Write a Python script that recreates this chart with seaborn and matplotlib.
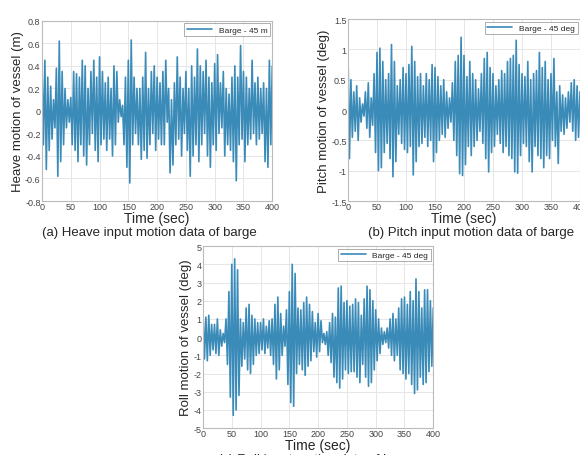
import numpy as np
import pandas as pd
import seaborn as sns
import matplotlib.pyplot as plt

# extrema: crests at t = 0, 5, ..., 400 s and troughs at t = 2.5, 7.5, ..., 397.5 s
heave_crests = [0.40, 0.45, 0.30, 0.22, 0.10, 0.38, 0.62, 0.35, 0.20, 0.10,
                0.12, 0.35, 0.33, 0.30, 0.45, 0.40, 0.20, 0.35, 0.45, 0.30,
                0.48, 0.35, 0.25, 0.30, 0.20, 0.40, 0.35, 0.10, 0.05, 0.30,
                0.45, 0.63, 0.30, 0.20, 0.20, 0.30, 0.52, 0.20, 0.35, 0.40,
                0.30, 0.25, 0.35, 0.45, 0.20, 0.10, 0.25, 0.48, 0.30, 0.20,
                0.35, 0.20, 0.40, 0.30, 0.55, 0.40, 0.35, 0.45, 0.30, 0.25,
                0.42, 0.50, 0.25, 0.35, 0.20, 0.15, 0.30, 0.40, 0.30, 0.58,
                0.35, 0.30, 0.20, 0.45, 0.25, 0.30, 0.20, 0.25, 0.20, 0.45,
                0.40]
heave_troughs = [-0.30, -0.52, -0.35, -0.25, -0.15, -0.58, -0.45, -0.30, -0.15, -0.10,
                 -0.30, -0.35, -0.45, -0.30, -0.40, -0.48, -0.30, -0.20, -0.35, -0.45,
                 -0.30, -0.25, -0.35, -0.25, -0.40, -0.30, -0.10, -0.05, -0.30, -0.50,
                 -0.64, -0.30, -0.20, -0.30, -0.43, -0.35, -0.42, -0.30, -0.20, -0.35,
                 -0.25, -0.30, -0.30, -0.10, -0.55, -0.48, -0.30, -0.25, -0.40, -0.20,
                 -0.35, -0.58, -0.40, -0.30, -0.45, -0.30, -0.20, -0.40, -0.50, -0.30,
                 -0.35, -0.20, -0.15, -0.40, -0.30, -0.35, -0.45, -0.62, -0.30, -0.25,
                 -0.45, -0.30, -0.25, -0.20, -0.30, -0.25, -0.20, -0.45, -0.50, -0.30]

pitch_crests = [0.95, 0.50, 0.30, 0.40, 0.20, 0.10, 0.30, 0.45, 0.20, 0.60,
                0.95, 1.02, 0.80, 0.50, 0.60, 1.08, 0.80, 0.40, 0.50, 0.70,
                0.60, 0.75, 1.05, 0.80, 0.55, 0.60, 0.40, 0.60, 0.50, 0.75,
                0.70, 0.55, 0.40, 0.50, 0.30, 0.20, 0.45, 0.80, 0.90, 1.20,
                0.90, 0.55, 0.80, 0.60, 0.50, 0.35, 0.60, 0.85, 0.95, 0.70,
                0.60, 0.40, 0.50, 0.65, 0.60, 0.80, 0.85, 0.90, 1.15, 0.75,
                0.60, 0.55, 0.80, 0.50, 0.60, 0.65, 0.95, 0.70, 0.80, 0.50,
                0.60, 0.85, 0.30, 0.40, 0.25, 0.20, 0.30, 0.45, 0.50, 0.40,
                0.30]
pitch_troughs = [-0.80, -0.45, -0.35, -0.50, -0.20, -0.10, -0.30, -0.45, -0.25, -0.70,
                 -1.00, -0.95, -0.70, -0.55, -0.80, -1.10, -0.85, -0.40, -0.55, -0.65,
                 -0.70, -0.60, -1.07, -0.85, -0.60, -0.55, -0.45, -0.60, -0.50, -0.85,
                 -0.70, -0.50, -0.40, -0.45, -0.30, -0.20, -0.50, -0.75, -1.05, -1.08,
                 -0.90, -0.60, -0.75, -0.60, -0.50, -0.35, -0.55, -0.80, -1.02, -0.70,
                 -0.60, -0.40, -0.55, -0.70, -0.60, -0.75, -0.80, -1.02, -1.04, -0.75,
                 -0.55, -0.60, -0.85, -1.02, -0.60, -0.75, -0.80, -0.95, -0.75, -0.80,
                 -0.50, -0.60, -0.88, -0.35, -0.40, -0.30, -0.20, -0.35, -0.50, -0.45]

roll_crests = [1.3, 1.1, 1.2, 0.7, 0.7, 1.0, 0.4, 0.2, 1.0, 2.5,
               4.0, 4.3, 3.7, 1.0, 0.8, 1.6, 1.8, 1.2, 1.0, 0.8,
               0.8, 1.0, 0.6, 0.9, 1.0, 1.8, 2.2, 1.3, 0.6, 1.5,
               2.5, 4.0, 3.5, 1.6, 1.5, 1.9, 2.2, 1.8, 1.4, 0.8,
               1.3, 0.9, 0.2, 0.3, 0.8, 1.3, 1.1, 2.7, 2.8, 1.9,
               2.0, 1.7, 1.8, 2.1, 1.9, 1.2, 2.1, 2.8, 2.6, 2.0,
               1.5, 1.0, 0.5, 0.3, 0.5, 1.0, 1.3, 1.0, 1.6, 2.1,
               2.2, 1.8, 2.5, 2.0, 3.2, 2.5, 1.6, 2.6, 2.6, 2.0,
               1.6]
roll_troughs = [-1.2, -1.3, -1.0, -0.7, -0.9, -1.0, -0.5, -0.3, -1.5, -3.3,
                -4.3, -4.0, -3.2, -1.6, -1.2, -1.8, -2.0, -1.5, -1.0, -0.9,
                -0.7, -0.9, -0.6, -1.0, -1.5, -2.3, -1.8, -1.0, -0.5, -2.6,
                -3.6, -3.8, -2.0, -1.5, -1.8, -2.1, -1.6, -1.3, -0.8, -1.1,
                -0.8, -0.3, -0.4, -1.0, -1.4, -2.2, -2.5, -2.8, -2.3, -1.8,
                -2.0, -1.9, -1.9, -2.2, -2.5, -1.5, -2.2, -2.7, -2.5, -1.8,
                -1.3, -0.9, -0.4, -0.3, -0.6, -1.0, -1.3, -1.0, -1.8, -2.0,
                -2.3, -2.0, -2.6, -3.1, -2.9, -2.2, -2.6, -2.5, -1.9, -1.6]

heave_yticks = [-0.8, -0.6, -0.4, -0.2, 0, 0.2, 0.4, 0.6, 0.8]
pitch_yticks = [-1.5, -1, -0.5, 0, 0.5, 1, 1.5]
roll_yticks = [-5, -4, -3, -2, -1, 0, 1, 2, 3, 4, 5]
time_ticks = [0, 50, 100, 150, 200, 250, 300, 350, 400]

half_period = 2.5


def build_series(crests, troughs):
    vals = []
    for i, c in enumerate(crests):
        vals.append(c)
        if i < len(troughs):
            vals.append(troughs[i])
    t = np.arange(len(vals)) * half_period
    return pd.DataFrame({"Time": t, "Value": vals})


sns.set_style("whitegrid")
plt.rcParams["font.family"] = ["Liberation Sans", "DejaVu Sans"]

fig = plt.figure(figsize=(5.8, 4.56), dpi=100)

line_color = "#3b8bb9"

panels = [
    ([0.0724, 0.557, 0.397, 0.395], heave_crests, heave_troughs, "Barge - 45 m",
     "Heave motion of vessel (m)", (-0.8, 0.8), heave_yticks),
    ([0.600, 0.557, 0.400, 0.399], pitch_crests, pitch_troughs, "Barge - 45 deg",
     "Pitch motion of vessel (deg)", (-1.5, 1.5), pitch_yticks),
    ([0.350, 0.059, 0.397, 0.399], roll_crests, roll_troughs, "Barge - 45 deg",
     "Roll motion of vessel (deg)", (-5, 5), roll_yticks),
]

for rect, crests, troughs, leg, ylab, ylim, yticks in panels:
    ax = fig.add_axes(rect)
    df = build_series(crests, troughs)
    sns.lineplot(data=df, x="Time", y="Value", ax=ax, color=line_color,
                 linewidth=1.2, label=leg)
    ax.set_xlim(0, 400)
    ax.set_ylim(*ylim)
    ax.set_xticks(time_ticks)
    ax.set_yticks(yticks)
    ax.set_yticklabels(["%g" % v for v in yticks])
    ax.tick_params(labelsize=6.5, colors="#444444", length=0, pad=1)
    ax.grid(color="#e6e6e6", linewidth=0.7)
    for sp in ax.spines.values():
        sp.set_color("#bbbbbb")
        sp.set_linewidth(0.8)
    ax.set_xlabel("Time (sec)", fontsize=10, labelpad=0)
    ax.set_ylabel(ylab, fontsize=9.5, labelpad=1)
    lg = ax.legend(loc="upper right", fontsize=6, frameon=True, fancybox=False,
                   handlelength=3, borderpad=0.3, borderaxespad=0.3)
    lg.get_frame().set_edgecolor("#888888")
    lg.get_frame().set_linewidth(0.6)

fig.text(0.258, 0.489, "(a) Heave input motion data of barge", ha="center", va="center", fontsize=9.5)
fig.text(0.812, 0.489, "(b) Pitch input motion data of barge", ha="center", va="center", fontsize=9.5)
fig.text(0.548, -0.008, "(c) Roll input motion data of barge", ha="center", va="center", fontsize=9.5)

plt.savefig("out.png", dpi=100)
